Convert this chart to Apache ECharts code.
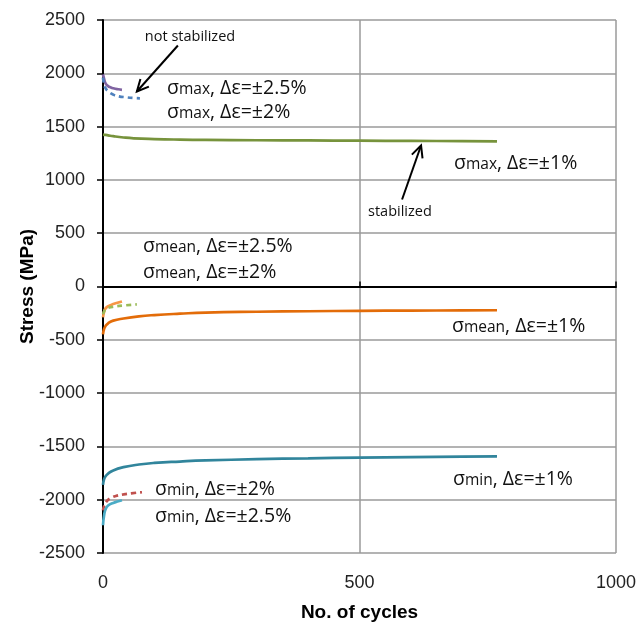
<!DOCTYPE html>
<html>
<head>
<meta charset="utf-8">
<script src="https://cdn.jsdelivr.net/npm/echarts@6/dist/echarts.min.js"></script>
<style>
html,body{margin:0;padding:0;background:#fff;}
#chart{width:644px;height:627px;}
</style>
</head>
<body>
<div id="chart"></div>
<script>
// Stress evolution over cycles: [cycle, stress in MPa]
const maxStrain1 = [[0,1425],[5,1422],[10,1418],[20,1410],[40,1398],[60,1390],[100,1383],[150,1378],[200,1375],[300,1372],[400,1370],[500,1368],[600,1366],[700,1364],[768,1362]];
const meanStrain1 = [[0,-450],[2,-400],[5,-370],[10,-345],[20,-320],[40,-300],[70,-280],[100,-268],[150,-255],[200,-245],[300,-237],[400,-232],[500,-228],[600,-226],[700,-224],[768,-223]];
const minStrain1 = [[0,-1860],[2,-1810],[5,-1780],[10,-1755],[20,-1725],[40,-1695],[70,-1670],[100,-1655],[150,-1642],[200,-1632],[300,-1620],[400,-1612],[500,-1605],[600,-1600],[700,-1596],[768,-1594]];
const maxStrain25 = [[0,1990],[2,1950],[5,1905],[10,1880],[15,1868],[20,1860],[30,1850],[37,1845]];
const maxStrain2 = [[0,1960],[2,1900],[5,1860],[10,1830],[20,1800],[30,1785],[45,1775],[60,1768],[72,1765]];
const meanStrain25 = [[0,-290],[2,-240],[5,-205],[10,-185],[20,-165],[30,-150],[37,-140]];
const meanStrain2 = [[0,-260],[5,-210],[10,-200],[20,-190],[40,-178],[66,-168]];
const minStrain2 = [[0,-2100],[3,-2050],[8,-2010],[15,-1985],[25,-1965],[40,-1950],[55,-1940],[76,-1930]];
const minStrain25 = [[0,-2240],[2,-2150],[5,-2090],[10,-2055],[20,-2030],[30,-2015],[37,-2005]];

const xTicks = [0, 500, 1000];
const yRange = [-2500, 2500];

// annotation arrows in data units: [tail, head]
const arrowNotStab = [[146, 2261], [66, 1829]];
const arrowStab = [[583, 816], [620, 1323]];

const chart = echarts.init(document.getElementById('chart'));

function line(name, data, color, dashed) {
  return {
    name, type: 'line', data, smooth: true, symbol: 'none',
    xAxisIndex: 0,
    lineStyle: { color, width: 2.7, type: dashed ? [5, 4] : 'solid' },
    z: 5
  };
}

const labelFont = '"Open Sans", "Noto Sans", sans-serif';
function sigmaLabel(id, x, y, sub, rest) {
  return {
    id, type: 'text', x, y: y - 2, z: 10,
    style: {
      text: '{s|σ}{b|' + sub + '}{s|, Δε=±' + rest + '}',
      rich: {
        s: { fontSize: 19.5, lineHeight: 24, fontFamily: labelFont, fill: '#111', verticalAlign: 'bottom' },
        b: { fontSize: 15.5, lineHeight: 24, fontFamily: labelFont, fill: '#111', verticalAlign: 'bottom' }
      },
      verticalAlign: 'middle'
    }
  };
}

chart.setOption({
  animation: false,
  backgroundColor: '#fff',
  grid: { left: 103, right: 28, top: 20, bottom: 74, outerBoundsMode: 'none', containLabel: false },
  xAxis: [{
    type: 'value', min: 0, max: 1000, interval: 500,
    axisLine: { show: false, onZero: false },
    axisTick: { show: false },
    splitLine: { show: true, lineStyle: { color: '#9a9a9a', width: 1.5 } },
    axisLabel: { fontSize: 18, fontFamily: 'Liberation Sans', color: '#222', margin: 21,
      formatter: v => xTicks.includes(v) ? String(v) : '' },
    name: 'No. of cycles', nameLocation: 'middle', nameGap: 50, nameMoveOverlap: false,
    nameTextStyle: { fontSize: 19, fontWeight: 'bold', fontFamily: 'Liberation Sans', color: '#000' }
  }, {
    type: 'value', min: 0, max: 1000, interval: 500,
    axisLine: { show: true, onZero: true, lineStyle: { color: '#000', width: 2 } },
    axisTick: { show: true, length: 5, lineStyle: { color: '#000', width: 1.5 } },
    axisLabel: { show: false },
    splitLine: { show: false }
  }],
  yAxis: {
    type: 'value', min: yRange[0], max: yRange[1], interval: 500,
    axisLine: { show: true, lineStyle: { color: '#000', width: 2 } },
    axisTick: { show: true, length: 6, lineStyle: { color: '#000', width: 1.5 } },
    splitLine: { show: true, lineStyle: { color: '#9a9a9a', width: 1.5 } },
    axisLabel: { fontSize: 18, fontFamily: 'Liberation Sans', color: '#222', margin: 18,
      formatter: v => String(v) },
    name: 'Stress (MPa)', nameLocation: 'middle', nameGap: 66, nameMoveOverlap: false,
    nameTextStyle: { fontSize: 19, fontWeight: 'bold', fontFamily: 'Liberation Sans', color: '#000' }
  },
  series: [
    line('σmax ±1%', maxStrain1, '#77933C'),
    line('σmean ±1%', meanStrain1, '#E36C09'),
    line('σmin ±1%', minStrain1, '#31859C'),
    line('σmax ±2.5%', maxStrain25, '#8064A2'),
    line('σmax ±2%', maxStrain2, '#4F81BD', true),
    line('σmean ±2.5%', meanStrain25, '#F79646'),
    line('σmean ±2%', meanStrain2, '#9BBB59', true),
    line('σmin ±2%', minStrain2, '#C0504D', true),
    line('σmin ±2.5%', minStrain25, '#4BACC6')
  ],
  graphic: [
    { id: 'ns', type: 'text', x: 190, y: 37, z: 10,
      style: { text: 'not stabilized', fontSize: 14.5, fontFamily: labelFont, fill: '#111', align: 'center', verticalAlign: 'middle' } },
    { id: 'st', type: 'text', x: 368, y: 212, z: 10,
      style: { text: 'stabilized', fontSize: 14.5, fontFamily: labelFont, fill: '#111', verticalAlign: 'middle' } },
    sigmaLabel('l1', 167, 88, 'max', '2.5%'),
    sigmaLabel('l2', 167, 112, 'max', '2%'),
    sigmaLabel('l3', 454, 163, 'max', '1%'),
    sigmaLabel('l4', 143, 246, 'mean', '2.5%'),
    sigmaLabel('l5', 143, 272, 'mean', '2%'),
    sigmaLabel('l6', 452, 326, 'mean', '1%'),
    sigmaLabel('l7', 453, 479, 'min', '1%'),
    sigmaLabel('l8', 155, 489, 'min', '2%'),
    sigmaLabel('l9', 155, 516, 'min', '2.5%')
  ]
});

// arrows drawn from data-space endpoints
function arrowGraphic(id, pts) {
  const a = chart.convertToPixel({ gridIndex: 0 }, pts[0]);
  const b = chart.convertToPixel({ gridIndex: 0 }, pts[1]);
  const ang = Math.atan2(b[1] - a[1], b[0] - a[0]);
  const len = 13, spread = 0.45;
  const h1 = [b[0] - len * Math.cos(ang - spread), b[1] - len * Math.sin(ang - spread)];
  const h2 = [b[0] - len * Math.cos(ang + spread), b[1] - len * Math.sin(ang + spread)];
  const st = { stroke: '#000', lineWidth: 2, fill: null };
  return [
    { id: id + 'a', type: 'polyline', z: 11, shape: { points: [a, b] }, style: st },
    { id: id + 'b', type: 'polyline', z: 11, shape: { points: [h1, b, h2] }, style: st }
  ];
}
chart.setOption({ graphic: [...arrowGraphic('ar1', arrowNotStab), ...arrowGraphic('ar2', arrowStab)] });
</script>
</body>
</html>
